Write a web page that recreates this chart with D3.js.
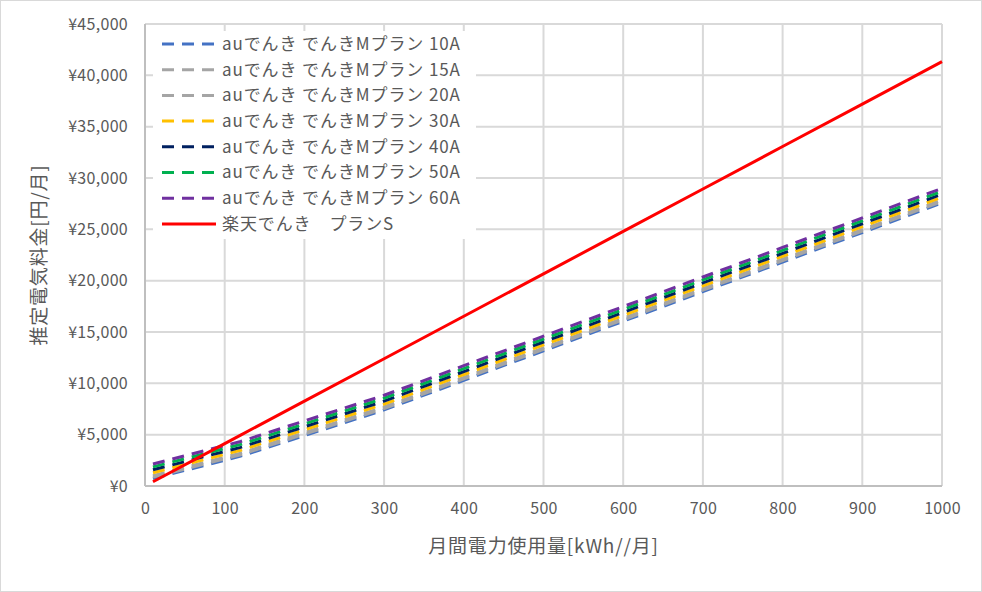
<!DOCTYPE html>
<html><head><meta charset="utf-8">
<script src="https://cdn.jsdelivr.net/npm/d3@7"></script>
<style>
html,body{margin:0;padding:0;background:#fff;}
svg text{font-family:"Noto Sans CJK JP","Noto Sans",sans-serif;fill:#595959;}
</style></head><body>
<svg id="c" width="982" height="592"></svg>
<script>
// kWh usage points
const usage = [10, 100, 120, 200, 300, 400, 500, 600, 700, 800, 900, 1000];
const au10A = [720, 2509, 2907, 4907, 7407, 10287, 13167, 16047, 18927, 21807, 24687, 27567];
const au15A = [863, 2652, 3050, 5050, 7550, 10430, 13310, 16190, 19070, 21950, 24830, 27710];
const au20A = [1006, 2795, 3193, 5193, 7693, 10573, 13453, 16333, 19213, 22093, 24973, 27853];
const au30A = [1292, 3081, 3479, 5479, 7979, 10859, 13739, 16619, 19499, 22379, 25259, 28139];
const au40A = [1578, 3367, 3765, 5765, 8265, 11145, 14025, 16905, 19785, 22665, 25545, 28425];
const au50A = [1864, 3653, 4051, 6051, 8551, 11431, 14311, 17191, 20071, 22951, 25831, 28711];
const au60A = [2150, 3939, 4337, 6337, 8837, 11717, 14597, 17477, 20357, 23237, 26117, 28997];
const rakutenS = [413, 4133, 4960, 8266, 12399, 16532, 20665, 24798, 28931, 33064, 37197, 41330];
const seriesNames = ["auでんき でんきMプラン 10A","auでんき でんきMプラン 15A","auでんき でんきMプラン 20A","auでんき でんきMプラン 30A","auでんき でんきMプラン 40A","auでんき でんきMプラン 50A","auでんき でんきMプラン 60A","楽天でんき　プランS"];
const seriesColors = ["#4472C4","#A5A5A5","#A5A5A5","#FFC000","#002060","#00B050","#7030A0","#FF0000"];
const xTicks = [0,100,200,300,400,500,600,700,800,900,1000];
const yTicks = [0,5000,10000,15000,20000,25000,30000,35000,40000,45000];
const xTitle = "月間電力使用量[kWh//月]";
const yTitle = "推定電気料金[円/月]";

const allVals = [au10A,au15A,au20A,au30A,au40A,au50A,au60A,rakutenS];
const svg = d3.select("#c");
svg.append("rect").attr("x",0.5).attr("y",0.5).attr("width",981).attr("height",591)
  .attr("fill","#fff").attr("stroke","#d9d9d9").attr("stroke-width",1);

const L=145,R=942,T=24,B=486;
const x = d3.scaleLinear().domain([0,1000]).range([L,R]);
const y = d3.scaleLinear().domain([0,45000]).range([B,T]);

// gridlines
const g = svg.append("g");
g.selectAll("line.h").data(yTicks).join("line")
  .attr("x1",L).attr("x2",R).attr("y1",d=>y(d)).attr("y2",d=>y(d))
  .attr("stroke","#d9d9d9").attr("stroke-width",2);
g.selectAll("line.v").data(xTicks).join("line")
  .attr("y1",T).attr("y2",B).attr("x1",d=>x(d)).attr("x2",d=>x(d))
  .attr("stroke","#d9d9d9").attr("stroke-width",2);
svg.append("line").attr("x1",L).attr("x2",L).attr("y1",T).attr("y2",B).attr("stroke","#bfbfbf").attr("stroke-width",2);
svg.append("line").attr("x1",L).attr("x2",R).attr("y1",B).attr("y2",B).attr("stroke","#bfbfbf").attr("stroke-width",2);

const fontFam='"Noto Sans CJK JP",sans-serif';
const yAxis = d3.axisLeft(y).tickValues(yTicks).tickSize(0).tickPadding(17)
  .tickFormat(d=>"¥"+d3.format(",")(d));
const ya = svg.append("g").attr("transform",`translate(${L},0)`).call(yAxis);
ya.select(".domain").remove();
ya.selectAll("text").attr("font-size",16).attr("letter-spacing",0.3).style("fill","#595959")
  .attr("font-family",fontFam);
const xAxis = d3.axisBottom(x).tickValues(xTicks).tickSize(0).tickPadding(17).tickFormat(d3.format("d"));
const xa = svg.append("g").attr("transform",`translate(0,${B})`).call(xAxis);
xa.select(".domain").remove();
xa.selectAll("text").attr("font-size",16).attr("letter-spacing",0.3).style("fill","#595959")
  .attr("font-family",fontFam);

svg.append("text").attr("x",(L+R)/2).attr("y",553).attr("text-anchor","middle")
  .attr("font-size",19).attr("letter-spacing",0.8).text(xTitle);
svg.append("text").attr("transform",`translate(46,${(T+B)/2}) rotate(-90)`)
  .attr("text-anchor","middle").attr("font-size",19).attr("letter-spacing",0.8).text(yTitle);

const line = d3.line().x((d,i)=>x(usage[i])).y(d=>y(d));
allVals.forEach((vals,k)=>{
  svg.append("path").datum(vals).attr("d",line).attr("fill","none")
    .attr("stroke",seriesColors[k]).attr("stroke-width",3)
    .attr("stroke-dasharray",k<7?"12,8":null);
});

const lg = svg.append("g");
lg.append("rect").attr("x",153).attr("y",31).attr("width",323).attr("height",208).attr("fill","#fff");
seriesNames.forEach((nm,k)=>{
  const yy = 44 + k*25.7;
  lg.append("line").attr("x1",162).attr("x2",216).attr("y1",yy).attr("y2",yy)
    .attr("stroke",seriesColors[k]).attr("stroke-width",3)
    .attr("stroke-dasharray",k<7?"12,8":null);
  lg.append("text").attr("x",222).attr("y",yy).attr("dy","0.35em")
    .attr("font-size",17).attr("letter-spacing",0.9).text(nm);
});
</script>
</body></html>
